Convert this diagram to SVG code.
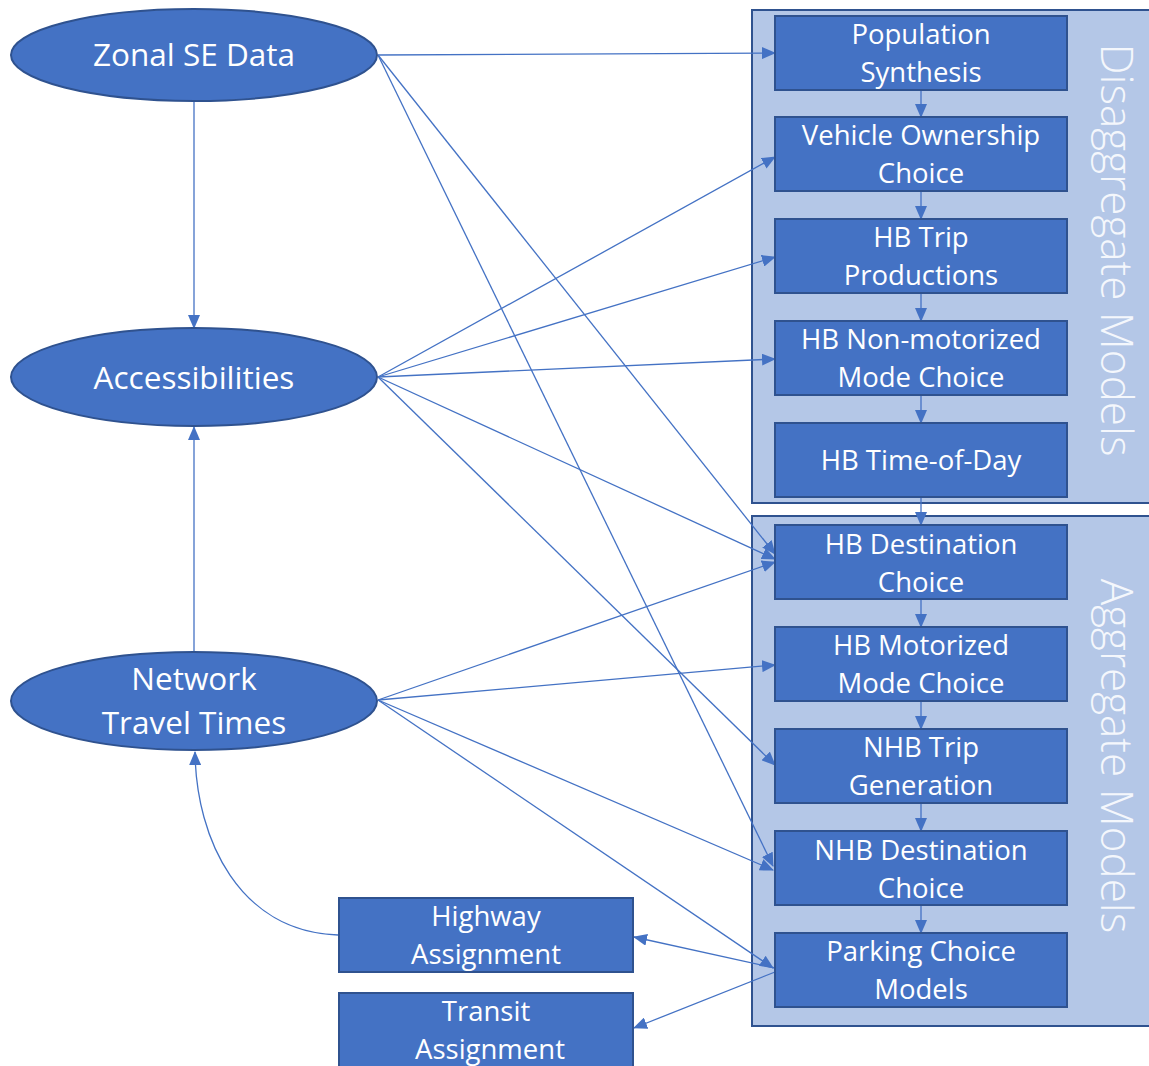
<svg xmlns="http://www.w3.org/2000/svg" width="1149" height="1066" viewBox="0 0 1149 1066">
<defs>
<marker id="ah" markerWidth="14" markerHeight="12" refX="13" refY="6" orient="auto" markerUnits="userSpaceOnUse">
<path d="M0,0 L14,6 L0,12 Z" fill="#4472c4"/>
</marker>
</defs>
<style>
.cont{fill:#b4c7e7;stroke:#2f528f;stroke-width:2}
.box{fill:#4472c4;stroke:#2f528f;stroke-width:2}
.ell{fill:#4472c4;stroke:#2f528f;stroke-width:2}
.t{font-family:"Open Sans","Noto Sans","DejaVu Sans",sans-serif;fill:#ffffff;text-anchor:middle;dominant-baseline:central}
.bt{font-size:27.5px}
.et{font-size:31.5px}
.vt{font-size:44px;font-weight:300;fill:#f4f7fc}
.c{fill:none;stroke:#4472c4;stroke-width:1.3;marker-end:url(#ah)}
</style>
<rect width="1149" height="1066" fill="#ffffff"/>
<g id="disaggregate">
<rect class="cont" x="752" y="10" width="420" height="493"/>
<text class="t vt" transform="translate(1118,250) rotate(90)">Disaggregate Models</text>
</g>
<g id="aggregate">
<rect class="cont" x="752" y="516" width="420" height="510"/>
<text class="t vt" transform="translate(1118,756) rotate(90)">Aggregate Models</text>
</g>
<g id="connectors">
<line class="c" x1="194" y1="101" x2="194" y2="328"/>
<line class="c" x1="194" y1="652" x2="194" y2="427"/>
<path class="c" d="M338,935 C240,932 196,840 195,752"/>
<line class="c" x1="378" y1="55" x2="775" y2="53"/>
<line class="c" x1="378" y1="55" x2="775" y2="554"/>
<line class="c" x1="378" y1="55" x2="773" y2="866"/>
<line class="c" x1="378" y1="377" x2="775" y2="157"/>
<line class="c" x1="378" y1="377" x2="775" y2="257"/>
<line class="c" x1="378" y1="377" x2="775" y2="359"/>
<line class="c" x1="378" y1="377" x2="775" y2="559"/>
<line class="c" x1="378" y1="377" x2="775" y2="765"/>
<line class="c" x1="378" y1="700" x2="775" y2="562"/>
<line class="c" x1="378" y1="700" x2="775" y2="665"/>
<line class="c" x1="378" y1="700" x2="773" y2="870"/>
<line class="c" x1="378" y1="700" x2="773" y2="968"/>
<line class="c" x1="775" y1="968" x2="634" y2="937"/>
<line class="c" x1="775" y1="972" x2="634" y2="1028"/>
<line class="c" x1="921" y1="90" x2="921" y2="117"/>
<line class="c" x1="921" y1="191" x2="921" y2="219"/>
<line class="c" x1="921" y1="293" x2="921" y2="321"/>
<line class="c" x1="921" y1="395" x2="921" y2="423"/>
<line class="c" x1="921" y1="497" x2="921" y2="525"/>
<line class="c" x1="921" y1="599" x2="921" y2="627"/>
<line class="c" x1="921" y1="701" x2="921" y2="729"/>
<line class="c" x1="921" y1="803" x2="921" y2="831"/>
<line class="c" x1="921" y1="905" x2="921" y2="933"/>
</g>
<g id="zonal">
<ellipse class="ell" cx="194" cy="55" rx="183" ry="46"/>
<text class="t et" x="194" y="53">Zonal SE Data</text>
</g>
<g id="access">
<ellipse class="ell" cx="194" cy="377" rx="183" ry="49"/>
<text class="t et" x="194" y="376">Accessibilities</text>
</g>
<g id="network">
<ellipse class="ell" cx="194" cy="701" rx="183" ry="49"/>
<text class="t et" x="194" y="677">Network</text>
<text class="t et" x="194" y="721">Travel Times</text>
</g>
<g id="pop"><rect class="box" x="775" y="16" width="292" height="74"/>
<text class="t bt" x="921" y="33">Population</text><text class="t bt" x="921" y="71">Synthesis</text></g>
<g id="veh"><rect class="box" x="775" y="117" width="292" height="74"/>
<text class="t bt" x="921" y="134">Vehicle Ownership</text><text class="t bt" x="921" y="172">Choice</text></g>
<g id="hbtp"><rect class="box" x="775" y="219" width="292" height="74"/>
<text class="t bt" x="921" y="236">HB Trip</text><text class="t bt" x="921" y="274">Productions</text></g>
<g id="hbnm"><rect class="box" x="775" y="321" width="292" height="74"/>
<text class="t bt" x="921" y="338">HB Non-motorized</text><text class="t bt" x="921" y="376">Mode Choice</text></g>
<g id="hbtod"><rect class="box" x="775" y="423" width="292" height="74"/>
<text class="t bt" x="921" y="459">HB Time-of-Day</text></g>
<g id="hbdc"><rect class="box" x="775" y="525" width="292" height="74"/>
<text class="t bt" x="921" y="543">HB Destination</text><text class="t bt" x="921" y="581">Choice</text></g>
<g id="hbmc"><rect class="box" x="775" y="627" width="292" height="74"/>
<text class="t bt" x="921" y="644">HB Motorized</text><text class="t bt" x="921" y="682">Mode Choice</text></g>
<g id="nhbtg"><rect class="box" x="775" y="729" width="292" height="74"/>
<text class="t bt" x="921" y="746">NHB Trip</text><text class="t bt" x="921" y="784">Generation</text></g>
<g id="nhbdc"><rect class="box" x="775" y="831" width="292" height="74"/>
<text class="t bt" x="921" y="849">NHB Destination</text><text class="t bt" x="921" y="887">Choice</text></g>
<g id="park"><rect class="box" x="775" y="933" width="292" height="74"/>
<text class="t bt" x="921" y="950">Parking Choice</text><text class="t bt" x="921" y="988">Models</text></g>
<g id="highway"><rect class="box" x="339" y="898" width="294" height="74"/>
<text class="t bt" x="486" y="915">Highway</text><text class="t bt" x="486" y="953">Assignment</text></g>
<g id="transit"><rect class="box" x="339" y="993" width="294" height="74"/>
<text class="t bt" x="486" y="1010">Transit</text><text class="t bt" x="490" y="1048">Assignment</text></g>
</svg>
